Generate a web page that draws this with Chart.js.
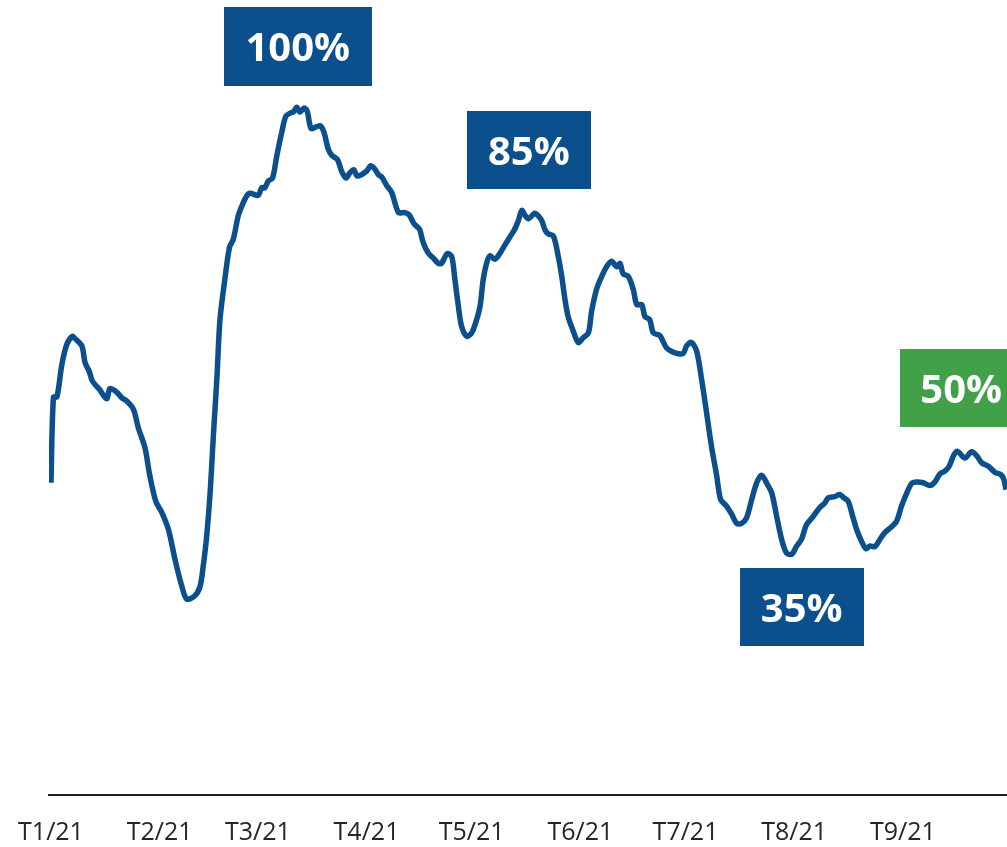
<!DOCTYPE html>
<html>
<head>
<meta charset="utf-8">
<script src="https://cdn.jsdelivr.net/npm/chart.js@4/dist/chart.umd.min.js"></script>
<style>
  html, body { margin: 0; padding: 0; background: #ffffff; }
  #chart { display: block; }
</style>
</head>
<body>
<canvas id="chart" width="1007" height="847"></canvas>
<script>
// Day of year (0 = 1 Jan 2021) for each reading
const days = [
  0, 0.7, 1.7, 3.1, 4.5, 6.1, 6.8, 8.8, 9.7, 10.9, 11.8, 13.8, 15.9, 16.8, 18.7, 20.3, 21.6, 23.5, 24.9, 26.8,
  28.2, 29.9, 31.6, 33.5, 35.4, 37.3, 38.7, 40.9, 42.5, 43.4, 44.4, 45.4, 46.3, 47.3, 48.2, 49.6, 50.9, 52.0, 53.4, 54.4,
  55.8, 56.8, 59.1, 60.1, 61.0, 62.0, 63.2, 64.4, 65.8, 67.0, 68.4, 69.1, 70.1, 71.0, 72.2, 73.1, 74.2, 75.8, 76.9, 77.9,
  79.1, 80.1, 81.7, 82.9, 84.1, 85.3, 86.4, 87.4, 90.0, 91.2, 92.4, 93.4, 94.3, 95.8, 97.2, 99.1, 100.7, 102.1, 103.5, 104.7,
  105.2, 106.2, 107.6, 109.0, 110.5, 111.4, 113.0, 114.3, 115.2, 116.2, 117.1, 118.6, 120.0, 121.4, 122.4, 123.3, 124.3, 125.2, 126.6, 128.1,
  129.5, 131.1, 132.3, 133.3, 134.3, 135.2, 136.2, 138.0, 139.0, 140.0, 140.9, 141.8, 143.3, 144.7, 145.7, 146.6, 147.5, 148.8, 150.4, 151.8,
  153.3, 154.2, 155.6, 157.1, 158.5, 159.9, 161.4, 162.3, 163.2, 164.7, 166.1, 167.1, 168.5, 169.4, 170.8, 171.8, 173.7, 175.6, 178.0, 180.3,
  181.3, 182.7, 184.2, 185.6, 187.0, 188.4, 189.9, 191.0, 192.7, 194.2, 195.6, 197.0, 198.4, 199.9, 201.3, 202.7, 204.1, 205.6, 207.0, 208.4,
  209.8, 211.3, 212.7, 214.1, 215.5, 217.4, 219.3, 220.8, 221.7, 223.6, 225.0, 226.2, 227.4, 228.7, 229.8, 231.2, 232.5, 233.6, 235.0, 236.5,
  237.9, 239.8, 241.2, 242.6, 244.1, 245.5, 246.9, 248.8, 250.7, 252.1, 253.6, 255.0, 256.2, 257.4, 258.5, 260.7, 262.6, 264.1, 265.5, 267.4,
  269.3, 270.9, 271.8, 272.4
];

// Level in % of the year's peak
const levels = [
  45.4, 57.8, 57.9, 62.6, 65.5, 66.7, 66.4, 65.3, 62.9, 61.6, 60.2, 59.0, 57.6, 59.1, 58.6, 57.7, 57.3, 56.1, 53.4, 50.5,
  46.4, 42.7, 41.1, 38.6, 34.2, 30.4, 28.5, 28.9, 30.3, 33.2, 37.6, 44.0, 52.1, 60.4, 69.1, 75.0, 79.6, 80.8, 84.2, 85.6,
  87.1, 87.5, 87.2, 88.3, 88.3, 89.3, 89.7, 92.9, 96.3, 98.7, 99.2, 99.3, 100, 99.3, 99.9, 99.4, 96.9, 97.2, 97.3, 96.3,
  93.9, 93.0, 92.4, 90.7, 89.7, 90.5, 90.9, 90.0, 90.7, 91.5, 91.0, 90.2, 89.9, 88.6, 87.6, 84.7, 84.7, 84.4, 83.1, 82.5,
  82.2, 80.3, 78.8, 78.1, 77.3, 77.3, 78.7, 78.3, 75.0, 71.1, 68.2, 66.7, 67.2, 69.1, 71.1, 75.0, 77.4, 78.4, 77.9, 78.8,
  80.0, 81.3, 82.3, 83.5, 85, 84.3, 83.8, 84.6, 84.2, 83.5, 82.2, 81.6, 81.3, 78.3, 75.4, 72.1, 69.6, 67.7, 65.8, 66.5,
  67.2, 70.3, 73.5, 75.4, 76.8, 77.6, 76.8, 77.3, 75.8, 75.4, 73.5, 71.3, 71.3, 69.6, 69.1, 67.2, 66.8, 65.0, 64.3, 64.2,
  65.3, 65.8, 64.5, 60.4, 55.6, 50.7, 46.4, 43.0, 42.0, 40.8, 39.5, 39.5, 40.3, 43.0, 45.4, 46.5, 45.4, 43.9, 40.5, 37.2,
  35.2, 35, 36.2, 37.2, 39.3, 40.5, 41.8, 42.5, 43.2, 43.4, 43.7, 43.2, 42.7, 40.5, 38.6, 36.9, 35.8, 36.2, 36.1, 37.2,
  38.2, 39.0, 39.8, 42.0, 43.9, 45.3, 45.5, 45.4, 45.0, 45.5, 46.7, 47.1, 47.8, 49.3, 50, 49.0, 49.9, 49.3, 48.3, 47.8,
  46.9, 46.6, 45.9, 44.4
];

// Month ticks on the time axis
const monthStarts = [0, 31, 59, 90, 120, 151, 181, 212, 243];
const monthLabels = ['T1/21', 'T2/21', 'T3/21', 'T4/21', 'T5/21', 'T6/21', 'T7/21', 'T8/21', 'T9/21'];

// Highlighted readings: the day they fall on
const calloutDays = [70.1, 134.3, 211.3, 258.5];

const BLUE = '#0b508c';
const GREEN = '#41a048';

// Box placement around each highlighted reading (pixels)
const calloutStyles = [
  { color: BLUE,  w: 148, h: 79, dx: 1,  dy: -61 },
  { color: BLUE,  w: 124, h: 78, dx: 7,  dy: -60 },
  { color: BLUE,  w: 124, h: 78, dx: 10, dy: 53 },
  { color: GREEN, w: 123, h: 78, dx: 4,  dy: -63 }
];

const points = days.map((d, i) => ({ x: d, y: levels[i] }));

const calloutPlugin = {
  id: 'callouts',
  afterDatasetsDraw(chart) {
    const { ctx, scales } = chart;
    ctx.save();
    calloutDays.forEach((d, i) => {
      const idx = days.indexOf(d);
      const v = levels[idx];
      const st = calloutStyles[i];
      const cx = scales.x.getPixelForValue(d) + st.dx;
      const cy = scales.y.getPixelForValue(v) + st.dy;
      ctx.fillStyle = st.color;
      ctx.fillRect(Math.round(cx - st.w / 2), Math.round(cy - st.h / 2), st.w, st.h);
      ctx.fillStyle = '#ffffff';
      ctx.font = 'bold 40px "Open Sans", sans-serif';
      ctx.textAlign = 'center';
      ctx.textBaseline = 'alphabetic';
      ctx.fillText(v + '%', cx, cy + 15);
    });
    ctx.restore();
  }
};

new Chart(document.getElementById('chart'), {
  type: 'line',
  data: {
    datasets: [{
      data: points,
      borderColor: BLUE,
      borderWidth: 5.5,
      pointRadius: 0,
      tension: 0.3,
      fill: false,
      borderCapStyle: 'butt',
      borderJoinStyle: 'round'
    }]
  },
  options: {
    responsive: false,
    animation: false,
    events: [],
    layout: { padding: { left: 49, right: 0, top: 0, bottom: 0 } },
    plugins: { legend: { display: false }, tooltip: { enabled: false } },
    scales: {
      x: {
        type: 'linear',
        min: -0.57,
        max: 272.7,
        afterBuildTicks(scale) {
          scale.ticks = monthStarts.map(v => ({ value: v }));
        },
        afterFit(scale) {
          // keep the time axis band fixed and let the first label overhang the plot
          scale.height = 52;
          scale.paddingLeft = 0;
          scale.paddingRight = 0;
        },
        ticks: {
          autoSkip: false,
          maxRotation: 0,
          padding: 23,
          color: '#262626',
          font: { family: '"Open Sans", sans-serif', size: 25 },
          callback(value) {
            const i = monthStarts.indexOf(value);
            return i >= 0 ? monthLabels[i] : '';
          }
        },
        grid: { display: false, drawTicks: false },
        border: { display: true, color: '#1f1f1f', width: 2 }
      },
      y: {
        display: false,
        min: 0,
        max: 115.6
      }
    }
  },
  plugins: [calloutPlugin]
});
</script>
</body>
</html>
